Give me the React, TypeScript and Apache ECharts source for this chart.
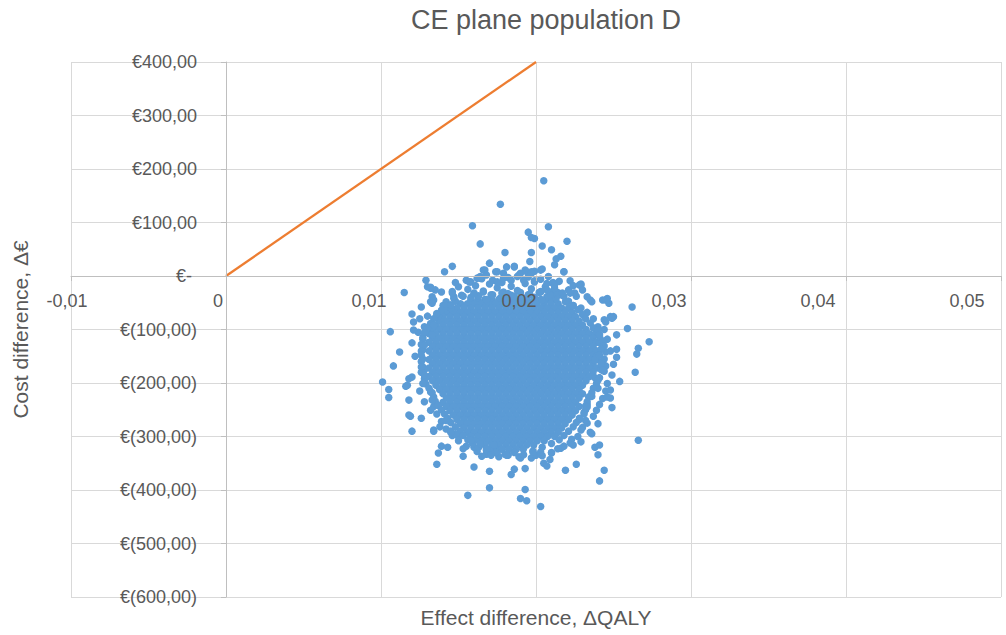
import React, { useEffect, useRef } from "react";
import * as echarts from "echarts";

const chartTitle = "CE plane population D";
const xAxisTitle = "Effect difference, ΔQALY";
const yAxisTitle = "Cost difference, Δ€";

const xTickLabels = ["-0,01", "0", "0,01", "0,02", "0,03", "0,04", "0,05"];
const yTickLabels = [
  "€(600,00)", "€(500,00)", "€(400,00)", "€(300,00)", "€(200,00)", "€(100,00)",
  "€-", "€100,00", "€200,00", "€300,00", "€400,00",
];

// willingness-to-pay threshold line (effect, cost)
const thresholdLine: [number, number][] = [[0, 0], [0.02, 400]];

// isolated simulation draws (effect, cost)
const outlierPoints: [number, number][] = [
  [0.0205, 178], [0.0177, 134], [0.0159, 94], [0.0208, 92], [0.0195, 82], [0.0197, 72], [0.0199, 70],
  [0.0164, 60], [0.0220, 65], [0.0204, 56], [0.0210, 49], [0.0197, 44], [0.0180, 44], [0.0216, 37],
  [0.0213, 32], [0.0212, 21], [0.0196, 27], [0.0170, 24], [0.0146, 18], [0.0141, 8], [0.0186, 18],
  [0.0181, 17], [0.0167, 11], [0.0174, 8], [0.0218, 8], [0.0204, 13], [0.0199, 9], [0.0193, 11],
  [0.0129, -8], [0.0158, -11], [0.0162, -4], [0.0172, -8], [0.0184, -8], [0.0189, 2], [0.0192, -8],
  [0.0199, -9], [0.0207, -14], [0.0211, -12], [0.0224, -18], [0.0229, -15],
  [0.0115, -31], [0.0126, -58], [0.0106, -104], [0.0120, -71], [0.0121, -86], [0.0121, -101],
  [0.0132, -23], [0.0135, -26], [0.0133, -39], [0.0134, -45], [0.0146, -29], [0.0147, -39],
  [0.0259, -98], [0.0262, -58], [0.0229, -17], [0.0225, -32], [0.0233, -39], [0.0235, -45],
  [0.0246, -42], [0.0247, -51], [0.0248, -76], [0.0250, -76], [0.0217, -32], [0.0211, -14], [0.0212, -23],
  [0.0273, -123], [0.0245, -45], [0.0249, -79], [0.0244, -82], [0.0236, -48],
  [0.0266, -135], [0.0265, -146], [0.0264, -180], [0.0252, -137], [0.0252, -152], [0.0242, -137],
  [0.0245, -86], [0.0254, -197], [0.0249, -185],
  [0.0112, -142], [0.0108, -168], [0.0101, -198], [0.0105, -212], [0.0105, -227], [0.0117, -204],
  [0.0118, -192], [0.0118, -232], [0.0119, -262], [0.0120, -290], [0.0126, -266], [0.0120, -125],
  [0.0127, -201], [0.0132, -251], [0.0134, -288],
  [0.0136, -352], [0.0137, -331], [0.0139, -318], [0.0143, -320], [0.0153, -337], [0.0153, -323],
  [0.0160, -357], [0.0156, -410], [0.0165, -337], [0.0171, -335], [0.0173, -316], [0.0170, -365],
  [0.0170, -396], [0.0181, -335], [0.0184, -371], [0.0186, -361], [0.0193, -360], [0.0193, -399],
  [0.0190, -416], [0.0194, -420], [0.0203, -431], [0.0203, -329], [0.0205, -350], [0.0207, -355],
  [0.0209, -343], [0.0219, -363], [0.0226, -352], [0.0230, -283], [0.0236, -295], [0.0238, -320],
  [0.0240, -334], [0.0241, -316], [0.0244, -363], [0.0241, -383], [0.0266, -307], [0.0249, -246],
  [0.0248, -228], [0.0242, -164], [0.0246, -201], [0.0243, -229], [0.0239, -251], [0.0240, -276],
  [0.0235, -292],
  [0.0132, -48], [0.0132, -21], [0.0130, -20], [0.0146, -32], [0.0145, -54], [0.0136, -70],
  [0.0134, -92], [0.0133, -110], [0.0128, -129], [0.0126, -170], [0.0128, -185], [0.0132, -217],
  [0.0133, -232], [0.0116, -206], [0.0120, -189], [0.0118, -260], [0.0134, -290],
  [0.0133, -51], [0.0164, -1], [0.0166, 11], [0.0175, 8], [0.0179, 5], [0.0186, 17], [0.0190, 5],
  [0.0197, 8], [0.0203, 11], [0.0208, -1], [0.0212, -17], [0.0218, 8], [0.0228, -17], [0.0230, -26],
  [0.0222, -32], [0.0207, -26], [0.0199, -11], [0.0203, -29], [0.0157, -11], [0.0164, -4],
  [0.0168, 2], [0.0175, -11], [0.0179, -4], [0.0188, -1], [0.0194, 8], [0.0197, 5],
  [0.0243, -45], [0.0240, -101], [0.0241, -110], [0.0248, -213], [0.0246, -226], [0.0240, -195],
  [0.0243, -176], [0.0238, -157], [0.0241, -148], [0.0229, -288], [0.0232, -270], [0.0233, -245],
  [0.0168, -323], [0.0164, -313], [0.0158, -307], [0.0148, -295], [0.0145, -292], [0.0138, -282],
  [0.0142, -270], [0.0214, -323], [0.0224, -316], [0.0229, -310],
];

// semi-dense fringe around the cloud (effect, cost)
const fringePoints: [number, number][] = [
  [0.0150, -20], [0.0156, -25], [0.0161, -18], [0.0166, -28], [0.0170, -15], [0.0175, -22],
  [0.0179, -30], [0.0184, -19], [0.0188, -27], [0.0193, -14], [0.0197, -24], [0.0202, -31],
  [0.0206, -20], [0.0211, -28], [0.0216, -35], [0.0221, -26], [0.0226, -38], [0.0147, -42],
  [0.0152, -36], [0.0158, -40], [0.0163, -37], [0.0171, -35], [0.0177, -41], [0.0186, -38],
  [0.0192, -41], [0.0199, -40], [0.0207, -39], [0.0213, -42], [0.0219, -48], [0.0224, -55],
  [0.0229, -60], [0.0233, -68], [0.0140, -55], [0.0145, -60], [0.0137, -75], [0.0142, -48],
  [0.0155, -8], [0.0165, -5], [0.0178, -12], [0.0182, -3], [0.0195, -2], [0.0203, -6],
  [0.0215, -10], [0.0222, -9], [0.0160, -32], [0.0168, -44], [0.0182, -33], [0.0195, -35],
  [0.0204, -45], [0.0210, -36], [0.0148, -12], [0.0139, -30],
  [0.0237, -80], [0.0240, -95], [0.0238, -110], [0.0241, -125], [0.0239, -150], [0.0242, -175],
  [0.0238, -190], [0.0240, -210], [0.0236, -225], [0.0233, -240], [0.0231, -255], [0.0228, -268],
  [0.0244, -100], [0.0246, -118], [0.0243, -160], [0.0245, -215], [0.0241, -240], [0.0237, -262],
  [0.0233, -275], [0.0250, -165], [0.0252, -110], [0.0248, -140],
  [0.0227, -300], [0.0222, -312], [0.0216, -322], [0.0210, -331], [0.0204, -336], [0.0197, -340],
  [0.0189, -338], [0.0182, -335], [0.0176, -338], [0.0168, -333], [0.0162, -328], [0.0155, -318],
  [0.0150, -308], [0.0146, -298], [0.0142, -286], [0.0139, -272], [0.0136, -258], [0.0134, -244],
  [0.0160, -320], [0.0175, -330], [0.0190, -340], [0.0200, -335], [0.0210, -330], [0.0218, -318],
  [0.0223, -305], [0.0150, -300], [0.0145, -290],
  [0.0128, -95], [0.0127, -115], [0.0126, -140], [0.0127, -155], [0.0128, -175], [0.0129, -190],
  [0.0125, -80], [0.0124, -105], [0.0122, -150], [0.0125, -215], [0.0128, -235], [0.0130, -75],
  // right rim of the core
  [0.0218, -38], [0.0221, -47], [0.0224, -55], [0.0227, -63], [0.0230, -72], [0.0232, -80],
  [0.0235, -88], [0.0237, -97], [0.0239, -104], [0.0241, -113], [0.0243, -121], [0.0244, -131],
  [0.0245, -142], [0.0244, -155], [0.0245, -168], [0.0244, -178], [0.0241, -190], [0.0239, -201],
  [0.0237, -210], [0.0236, -218], [0.0234, -226], [0.0233, -235], [0.0232, -243], [0.0232, -250],
  [0.0231, -258], [0.0228, -266], [0.0226, -274], [0.0224, -282], [0.0221, -290], [0.0218, -298],
  [0.0215, -306], [0.0210, -313], [0.0204, -320], [0.0198, -327],
  // left rim of the core
  [0.0153, -38], [0.0148, -47], [0.0142, -55], [0.0139, -64], [0.0136, -72], [0.0134, -80],
  [0.0132, -89], [0.0130, -97], [0.0128, -106], [0.0127, -118], [0.0126, -128], [0.0127, -138],
  [0.0126, -148], [0.0126, -160], [0.0127, -170], [0.0126, -180], [0.0128, -192], [0.0129, -202],
  [0.0131, -210], [0.0133, -218], [0.0134, -226], [0.0135, -234], [0.0137, -242], [0.0139, -250],
  [0.0141, -258], [0.0143, -266], [0.0145, -274], [0.0148, -282], [0.0151, -290], [0.0153, -298],
  [0.0156, -306], [0.0159, -313], [0.0163, -320], [0.0168, -326],
  // top and bottom rims
  [0.0160, -33], [0.0166, -30], [0.0172, -35], [0.0178, -32], [0.0184, -36], [0.0190, -31],
  [0.0196, -34], [0.0203, -30], [0.0209, -35], [0.0214, -31],
  [0.0174, -330], [0.0180, -333], [0.0186, -330], [0.0192, -334], [0.0198, -329], [0.0170, -325],
];

// dense, saturated core of the cloud: [cost, effects drawn at that cost]
const coreRows: [number, number[]][] = [
  [-44, [0.01580, 0.01625, 0.01670, 0.01715, 0.01760, 0.01805, 0.01850, 0.01895, 0.01940, 0.01985, 0.02030, 0.02075, 0.02120]],
  [-52, [0.01513, 0.01558, 0.01603, 0.01648, 0.01693, 0.01738, 0.01783, 0.01828, 0.01873, 0.01918, 0.01963, 0.02008, 0.02053, 0.02098, 0.02143]],
  [-60, [0.01445, 0.01490, 0.01535, 0.01580, 0.01625, 0.01670, 0.01715, 0.01760, 0.01805, 0.01850, 0.01895, 0.01940, 0.01985, 0.02030, 0.02075, 0.02120, 0.02165, 0.02210]],
  [-68, [0.01423, 0.01468, 0.01513, 0.01558, 0.01603, 0.01648, 0.01693, 0.01738, 0.01783, 0.01828, 0.01873, 0.01918, 0.01963, 0.02008, 0.02053, 0.02098, 0.02143, 0.02188, 0.02233]],
  [-76, [0.01400, 0.01445, 0.01490, 0.01535, 0.01580, 0.01625, 0.01670, 0.01715, 0.01760, 0.01805, 0.01850, 0.01895, 0.01940, 0.01985, 0.02030, 0.02075, 0.02120, 0.02165, 0.02210, 0.02255]],
  [-84, [0.01378, 0.01423, 0.01468, 0.01513, 0.01558, 0.01603, 0.01648, 0.01693, 0.01738, 0.01783, 0.01828, 0.01873, 0.01918, 0.01963, 0.02008, 0.02053, 0.02098, 0.02143, 0.02188, 0.02233, 0.02278]],
  [-92, [0.01355, 0.01400, 0.01445, 0.01490, 0.01535, 0.01580, 0.01625, 0.01670, 0.01715, 0.01760, 0.01805, 0.01850, 0.01895, 0.01940, 0.01985, 0.02030, 0.02075, 0.02120, 0.02165, 0.02210, 0.02255, 0.02300]],
  [-100, [0.01333, 0.01378, 0.01423, 0.01468, 0.01513, 0.01558, 0.01603, 0.01648, 0.01693, 0.01738, 0.01783, 0.01828, 0.01873, 0.01918, 0.01963, 0.02008, 0.02053, 0.02098, 0.02143, 0.02188, 0.02233, 0.02278, 0.02323]],
  [-108, [0.01310, 0.01355, 0.01400, 0.01445, 0.01490, 0.01535, 0.01580, 0.01625, 0.01670, 0.01715, 0.01760, 0.01805, 0.01850, 0.01895, 0.01940, 0.01985, 0.02030, 0.02075, 0.02120, 0.02165, 0.02210, 0.02255, 0.02300, 0.02345]],
  [-116, [0.01333, 0.01378, 0.01423, 0.01468, 0.01513, 0.01558, 0.01603, 0.01648, 0.01693, 0.01738, 0.01783, 0.01828, 0.01873, 0.01918, 0.01963, 0.02008, 0.02053, 0.02098, 0.02143, 0.02188, 0.02233, 0.02278, 0.02323, 0.02368]],
  [-124, [0.01310, 0.01355, 0.01400, 0.01445, 0.01490, 0.01535, 0.01580, 0.01625, 0.01670, 0.01715, 0.01760, 0.01805, 0.01850, 0.01895, 0.01940, 0.01985, 0.02030, 0.02075, 0.02120, 0.02165, 0.02210, 0.02255, 0.02300, 0.02345, 0.02390]],
  [-132, [0.01333, 0.01378, 0.01423, 0.01468, 0.01513, 0.01558, 0.01603, 0.01648, 0.01693, 0.01738, 0.01783, 0.01828, 0.01873, 0.01918, 0.01963, 0.02008, 0.02053, 0.02098, 0.02143, 0.02188, 0.02233, 0.02278, 0.02323, 0.02368]],
  [-140, [0.01310, 0.01355, 0.01400, 0.01445, 0.01490, 0.01535, 0.01580, 0.01625, 0.01670, 0.01715, 0.01760, 0.01805, 0.01850, 0.01895, 0.01940, 0.01985, 0.02030, 0.02075, 0.02120, 0.02165, 0.02210, 0.02255, 0.02300, 0.02345, 0.02390]],
  [-148, [0.01333, 0.01378, 0.01423, 0.01468, 0.01513, 0.01558, 0.01603, 0.01648, 0.01693, 0.01738, 0.01783, 0.01828, 0.01873, 0.01918, 0.01963, 0.02008, 0.02053, 0.02098, 0.02143, 0.02188, 0.02233, 0.02278, 0.02323, 0.02368]],
  [-156, [0.01310, 0.01355, 0.01400, 0.01445, 0.01490, 0.01535, 0.01580, 0.01625, 0.01670, 0.01715, 0.01760, 0.01805, 0.01850, 0.01895, 0.01940, 0.01985, 0.02030, 0.02075, 0.02120, 0.02165, 0.02210, 0.02255, 0.02300, 0.02345, 0.02390]],
  [-164, [0.01333, 0.01378, 0.01423, 0.01468, 0.01513, 0.01558, 0.01603, 0.01648, 0.01693, 0.01738, 0.01783, 0.01828, 0.01873, 0.01918, 0.01963, 0.02008, 0.02053, 0.02098, 0.02143, 0.02188, 0.02233, 0.02278, 0.02323, 0.02368]],
  [-172, [0.01310, 0.01355, 0.01400, 0.01445, 0.01490, 0.01535, 0.01580, 0.01625, 0.01670, 0.01715, 0.01760, 0.01805, 0.01850, 0.01895, 0.01940, 0.01985, 0.02030, 0.02075, 0.02120, 0.02165, 0.02210, 0.02255, 0.02300, 0.02345, 0.02390]],
  [-180, [0.01333, 0.01378, 0.01423, 0.01468, 0.01513, 0.01558, 0.01603, 0.01648, 0.01693, 0.01738, 0.01783, 0.01828, 0.01873, 0.01918, 0.01963, 0.02008, 0.02053, 0.02098, 0.02143, 0.02188, 0.02233, 0.02278, 0.02323, 0.02368]],
  [-188, [0.01310, 0.01355, 0.01400, 0.01445, 0.01490, 0.01535, 0.01580, 0.01625, 0.01670, 0.01715, 0.01760, 0.01805, 0.01850, 0.01895, 0.01940, 0.01985, 0.02030, 0.02075, 0.02120, 0.02165, 0.02210, 0.02255, 0.02300, 0.02345]],
  [-196, [0.01333, 0.01378, 0.01423, 0.01468, 0.01513, 0.01558, 0.01603, 0.01648, 0.01693, 0.01738, 0.01783, 0.01828, 0.01873, 0.01918, 0.01963, 0.02008, 0.02053, 0.02098, 0.02143, 0.02188, 0.02233, 0.02278, 0.02323]],
  [-204, [0.01355, 0.01400, 0.01445, 0.01490, 0.01535, 0.01580, 0.01625, 0.01670, 0.01715, 0.01760, 0.01805, 0.01850, 0.01895, 0.01940, 0.01985, 0.02030, 0.02075, 0.02120, 0.02165, 0.02210, 0.02255, 0.02300]],
  [-212, [0.01378, 0.01423, 0.01468, 0.01513, 0.01558, 0.01603, 0.01648, 0.01693, 0.01738, 0.01783, 0.01828, 0.01873, 0.01918, 0.01963, 0.02008, 0.02053, 0.02098, 0.02143, 0.02188, 0.02233, 0.02278]],
  [-220, [0.01400, 0.01445, 0.01490, 0.01535, 0.01580, 0.01625, 0.01670, 0.01715, 0.01760, 0.01805, 0.01850, 0.01895, 0.01940, 0.01985, 0.02030, 0.02075, 0.02120, 0.02165, 0.02210, 0.02255, 0.02300]],
  [-228, [0.01423, 0.01468, 0.01513, 0.01558, 0.01603, 0.01648, 0.01693, 0.01738, 0.01783, 0.01828, 0.01873, 0.01918, 0.01963, 0.02008, 0.02053, 0.02098, 0.02143, 0.02188, 0.02233, 0.02278]],
  [-236, [0.01400, 0.01445, 0.01490, 0.01535, 0.01580, 0.01625, 0.01670, 0.01715, 0.01760, 0.01805, 0.01850, 0.01895, 0.01940, 0.01985, 0.02030, 0.02075, 0.02120, 0.02165, 0.02210, 0.02255]],
  [-244, [0.01423, 0.01468, 0.01513, 0.01558, 0.01603, 0.01648, 0.01693, 0.01738, 0.01783, 0.01828, 0.01873, 0.01918, 0.01963, 0.02008, 0.02053, 0.02098, 0.02143, 0.02188, 0.02233, 0.02278]],
  [-252, [0.01445, 0.01490, 0.01535, 0.01580, 0.01625, 0.01670, 0.01715, 0.01760, 0.01805, 0.01850, 0.01895, 0.01940, 0.01985, 0.02030, 0.02075, 0.02120, 0.02165, 0.02210, 0.02255]],
  [-260, [0.01468, 0.01513, 0.01558, 0.01603, 0.01648, 0.01693, 0.01738, 0.01783, 0.01828, 0.01873, 0.01918, 0.01963, 0.02008, 0.02053, 0.02098, 0.02143, 0.02188, 0.02233]],
  [-268, [0.01490, 0.01535, 0.01580, 0.01625, 0.01670, 0.01715, 0.01760, 0.01805, 0.01850, 0.01895, 0.01940, 0.01985, 0.02030, 0.02075, 0.02120, 0.02165, 0.02210]],
  [-276, [0.01513, 0.01558, 0.01603, 0.01648, 0.01693, 0.01738, 0.01783, 0.01828, 0.01873, 0.01918, 0.01963, 0.02008, 0.02053, 0.02098, 0.02143, 0.02188]],
  [-284, [0.01535, 0.01580, 0.01625, 0.01670, 0.01715, 0.01760, 0.01805, 0.01850, 0.01895, 0.01940, 0.01985, 0.02030, 0.02075, 0.02120, 0.02165]],
  [-292, [0.01558, 0.01603, 0.01648, 0.01693, 0.01738, 0.01783, 0.01828, 0.01873, 0.01918, 0.01963, 0.02008, 0.02053, 0.02098, 0.02143]],
  [-300, [0.01580, 0.01625, 0.01670, 0.01715, 0.01760, 0.01805, 0.01850, 0.01895, 0.01940, 0.01985, 0.02030, 0.02075, 0.02120]],
  [-308, [0.01603, 0.01648, 0.01693, 0.01738, 0.01783, 0.01828, 0.01873, 0.01918, 0.01963, 0.02008, 0.02053]],
  [-316, [0.01670, 0.01715, 0.01760, 0.01805, 0.01850, 0.01895, 0.01940, 0.01985]],
  [-324, [0.01738, 0.01783, 0.01828, 0.01873, 0.01918]],
];

const FONT = "'Liberation Sans', Arial, Helvetica, sans-serif";
const TEXT_GREY = "#595959";
const GRID_GREY = "#D9D9D9";
const AXIS_GREY = "#BFBFBF";
const POINT_BLUE = "#5B9BD5";
const LINE_ORANGE = "#ED7D31";
// leftward nudge of each x tick label (px), as the labels sit in the reference
const X_LABEL_NUDGE = [4, 8, 12, 17, 22, 28, 34];

const X_MIN = -0.01, X_MAX = 0.05, X_STEP = 0.01;
const Y_MIN = -600, Y_MAX = 400, Y_STEP = 100;

export default function App() {
  const ref = useRef<HTMLDivElement>(null);

  useEffect(() => {
    document.body.style.margin = "0";
    const chart = echarts.init(ref.current as HTMLDivElement, null, { renderer: "svg" });

    const scatterData: [number, number][] = [
      ...coreRows.flatMap(([cost, effects]) => effects.map((e) => [e, cost] as [number, number])),
      ...fringePoints,
      ...outlierPoints,
    ];

    const xRich: Record<string, any> = {};
    X_LABEL_NUDGE.forEach((d, k) => {
      xRich["s" + k] = {
        padding: [0, 2 * d, 0, 0],
        fontFamily: FONT,
        fontSize: 18,
        color: TEXT_GREY,
      };
    });

    const gridBase = { right: 5, top: 62, outerBoundsMode: "none", containLabel: false };

    const option: any = {
      animation: false,
      backgroundColor: "#ffffff",
      title: {
        text: chartTitle,
        left: 541,
        top: 1,
        textAlign: "center",
        textStyle: { fontFamily: FONT, fontSize: 27, fontWeight: "normal", color: TEXT_GREY },
      },
      grid: [
        // main plot area
        { ...gridBase, left: 71, bottom: 38 },
        // grid whose left edge is the zero-effect line (carries the cost axis)
        { ...gridBase, left: 226, bottom: 38 },
        // grid whose bottom edge is the zero-cost line (carries the effect axis)
        { ...gridBase, left: 71, bottom: 359 },
      ],
      xAxis: [
        {
          gridIndex: 0,
          type: "value",
          min: X_MIN,
          max: X_MAX,
          interval: X_STEP,
          name: xAxisTitle,
          nameLocation: "middle",
          nameGap: 10,
          nameTextStyle: { fontFamily: FONT, fontSize: 21, color: TEXT_GREY },
          axisLine: { show: false, onZero: false },
          axisTick: { show: false },
          axisLabel: { show: false },
          splitLine: { show: true, lineStyle: { color: GRID_GREY, width: 1 } },
        },
        { gridIndex: 1, type: "value", show: false, min: 0, max: 1 },
        {
          gridIndex: 2,
          type: "value",
          min: X_MIN,
          max: X_MAX,
          interval: X_STEP,
          axisLine: { show: true, onZero: false, lineStyle: { color: AXIS_GREY, width: 1 } },
          axisTick: { show: true, length: 5, lineStyle: { color: AXIS_GREY } },
          splitLine: { show: false },
          axisLabel: {
            margin: 16,
            formatter: (v: number) => {
              const k = Math.round((v - X_MIN) / X_STEP);
              return "{s" + k + "|" + xTickLabels[k] + "}";
            },
            rich: xRich,
          },
          z: 10,
        },
      ],
      yAxis: [
        {
          gridIndex: 0,
          type: "value",
          min: Y_MIN,
          max: Y_MAX,
          interval: Y_STEP,
          name: yAxisTitle,
          nameLocation: "middle",
          nameGap: 40,
          nameTextStyle: { fontFamily: FONT, fontSize: 21, color: TEXT_GREY },
          axisLine: { show: false, onZero: false },
          axisTick: { show: false },
          axisLabel: { show: false },
          splitLine: { show: true, lineStyle: { color: GRID_GREY, width: 1 } },
        },
        {
          gridIndex: 1,
          type: "value",
          min: Y_MIN,
          max: Y_MAX,
          interval: Y_STEP,
          axisLine: { show: true, onZero: false, lineStyle: { color: AXIS_GREY, width: 1 } },
          axisTick: { show: true, length: 5, lineStyle: { color: AXIS_GREY } },
          splitLine: { show: false },
          axisLabel: {
            margin: 29,
            fontFamily: FONT,
            fontSize: 18,
            color: TEXT_GREY,
            formatter: (v: number) => {
              const k = Math.round((v - Y_MIN) / Y_STEP);
              return v === 0 ? "{z|" + yTickLabels[k] + "}" : yTickLabels[k];
            },
            rich: {
              z: { padding: [0, 5, 0, 0], fontFamily: FONT, fontSize: 18, color: TEXT_GREY },
            },
          },
          z: 11,
        },
        { gridIndex: 2, type: "value", show: false, min: 0, max: 1 },
      ],
      series: [
        {
          type: "scatter",
          xAxisIndex: 0,
          yAxisIndex: 0,
          data: scatterData,
          symbol: "circle",
          symbolSize: 7.5,
          itemStyle: { color: POINT_BLUE, opacity: 1 },
          z: 2,
        },
        {
          type: "line",
          xAxisIndex: 0,
          yAxisIndex: 0,
          data: thresholdLine,
          symbol: "none",
          lineStyle: { color: LINE_ORANGE, width: 2.25 },
          z: 3,
        },
      ],
    };

    chart.setOption(option);
    return () => chart.dispose();
  }, []);

  return <div ref={ref} style={{ width: 1006, height: 635 }} />;
}
